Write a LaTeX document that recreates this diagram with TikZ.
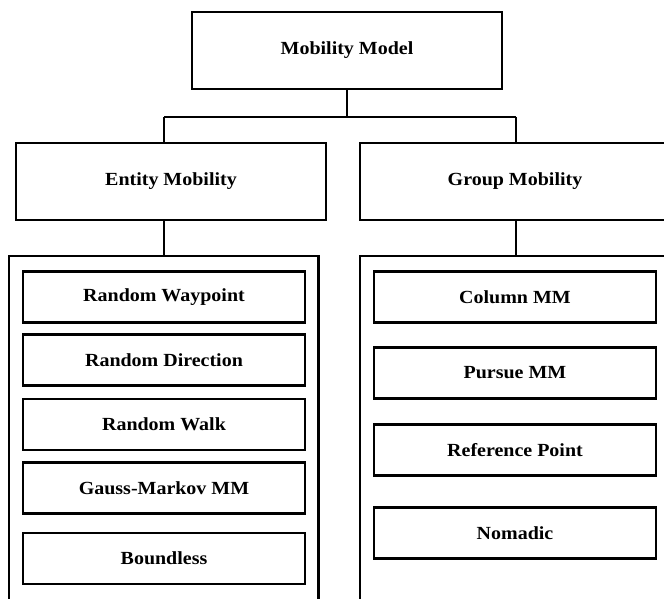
\documentclass[tikz,border=0pt]{standalone}
\usepackage{fontspec}
\setmainfont{Liberation Serif}
\newfontfamily\labelfont[FakeStretch=1.08]{Liberation Serif}
\begin{document}
\begin{tikzpicture}[x=1pt,y=1pt,
  bigbox/.style={draw, line width=2.8pt, minimum width=310pt, minimum height=77pt, inner sep=0pt, font=\labelfont\bfseries\fontsize{18.5}{20}\selectfont},
  smallbox/.style={draw, line width=2.8pt, minimum width=282pt, minimum height=51pt, inner sep=0pt, font=\labelfont\bfseries\fontsize{18.5}{20}\selectfont},
  panel/.style={draw, line width=2.3pt, minimum width=#1, minimum height=400pt, inner sep=0pt, anchor=north},
  link/.style={line width=2.5pt}]
\useasboundingbox (0,0) rectangle (664,-599);
\clip (0,0) rectangle (664,-599);
\node[bigbox] (mm) at (347,-50.5) {Mobility Model};
\node[bigbox] (em) at (171,-181.5) {Entity Mobility};
\node[bigbox] (gm) at (515,-181.5) {Group Mobility};
\node[panel=309.6pt] (lp) at (163.8,-255) {};
\node[panel=320pt] (rp) at (520,-255) {};
\coordinate (j) at (347,-117);
\coordinate (el) at (164,-117);
\coordinate (gl) at (516,-117);
\draw[link] (mm.south) -- (j);
\draw[link] (el) -- (gl);
\draw[link] (el) -- (el |- em.north);
\draw[link] (gl) -- (gl |- gm.north);
\draw[link] (em.south -| el) -- (el |- lp.north);
\draw[link] (gm.south -| gl) -- (gl |- rp.north);
\node[smallbox] (rwp) at (164,-297) {Random Waypoint};
\node[smallbox] (rd) at (164,-360) {Random Direction};
\node[smallbox] (rwk) at (164,-424.5) {Random Walk};
\node[smallbox] (gmm) at (164,-488) {Gauss-Markov MM};
\node[smallbox] (bl) at (164,-558.5) {Boundless};
\node[smallbox] (col) at (515,-297) {Column MM};
\node[smallbox] (pur) at (515,-373) {Pursue MM};
\node[smallbox] (ref) at (515,-450) {Reference Point};
\node[smallbox] (nom) at (515,-533) {Nomadic};
\end{tikzpicture}
\end{document}
